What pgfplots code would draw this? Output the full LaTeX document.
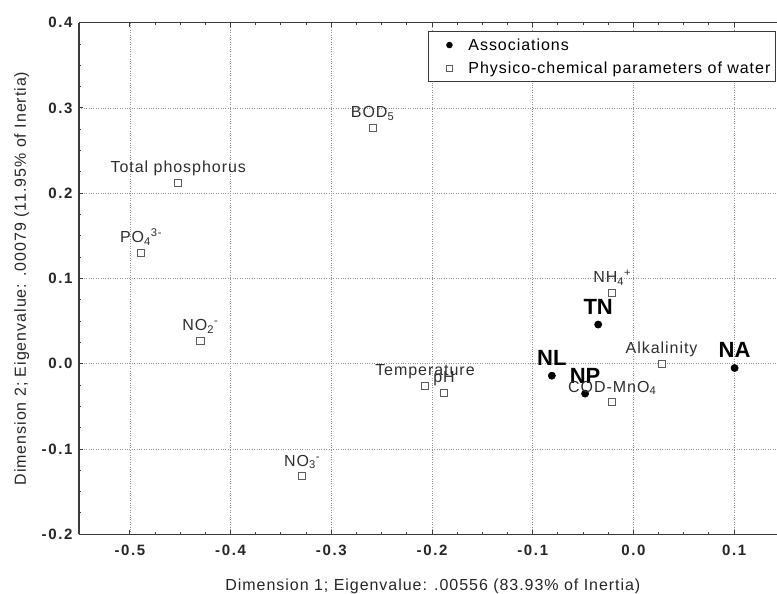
\documentclass[border=0pt]{standalone}
\usepackage{fontspec}
\setmainfont{Liberation Sans}[LetterSpace=6]
\newfontfamily\assocfont{Liberation Sans}
\newfontfamily\tickfont{Liberation Sans}[LetterSpace=11]
\usepackage{pgfplots}
\pgfplotsset{compat=1.18}
\definecolor{axisgray}{HTML}{3A3A3A}
\definecolor{markgray}{HTML}{5C5C5C}
\definecolor{labelgray}{HTML}{2E2E2E}

\begin{document}
\begin{tikzpicture}
\begin{axis}[
    name=ax,
    scale only axis,
    width=698pt, height=511.6pt,
    xmin=-0.5506, xmax=0.1426,
    ymin=-0.2, ymax=0.4,
    xtick={-0.5,-0.4,-0.3,-0.2,-0.1,0,0.1},
    ytick={-0.2,-0.1,0,0.1,0.2,0.3,0.4},
    minor tick num=3,
    axis y line*=left,
    axis line style={axisgray, line width=1.4pt},
    every tick/.style={axisgray, line width=1pt},
    major tick length=4pt, minor tick length=2.5pt,
    grid=major,
    grid style={dotted, gray!85, line width=0.8pt},
    tick label style={font=\tickfont\fontsize{15}{17}\selectfont\bfseries, text=black!85},
    yticklabel style={xshift=-3pt},
    xticklabel style={yshift=-7pt},
    /pgf/number format/.cd, fixed, fixed zerofill, precision=1, assume math mode=true,
    /pgfplots/.cd,
    label style={font=\fontsize{16}{19}\selectfont, text=black!85},
    xlabel={Dimension 1; Eigenvalue: .00556 (83.93\% of Inertia)},
    ylabel={Dimension 2; Eigenvalue: .00079 (11.95\% of Inertia)},
    xlabel style={at={(axis description cs:0.507,-0.1108)}, anchor=base},
    ylabel style={at={(axis description cs:-0.076,0.5)}, anchor=base},
    legend style={at={(axis description cs:0.9986,0.984)}, anchor=north east,
        draw=axisgray, line width=1.3pt, font=\fontsize{16}{19}\selectfont,
        row sep=6pt, inner ysep=5pt},
    legend cell align=left,
    legend image code/.code={
        \path[draw=none, fill=none] (-18pt,0pt) (17pt,0pt);
        \draw[#1, mark size=2.9pt] plot coordinates {(0pt,0pt)};
    },
    clip=false,
]
\addplot[only marks, mark=*, mark size=3.6pt, black,
    mark options={line width=0.6pt},
    point meta=explicit symbolic,
    nodes near coords,
    nodes near coords style={font=\assocfont\fontsize{22}{24}\selectfont\bfseries,
        anchor=base, yshift=10.5pt, text=black}]
coordinates {
    (-0.035,0.046) [TN]
    (-0.081,-0.014) [NL]
    (-0.048,-0.035) [NP]
    (0.1005,-0.005) [NA]
};
\addlegendentry{Associations}
\addplot[only marks, mark=square*, mark size=3.6pt,
    mark options={draw=markgray, fill=white, line width=0.9pt},
    point meta=explicit symbolic,
    nodes near coords,
    nodes near coords style={font=\fontsize{16}{19}\selectfont,
        anchor=base, yshift=10pt, text=labelgray}]
coordinates {
    (-0.452,0.212) [Total phosphorus]
    (-0.259,0.277) [BOD\textsubscript{5}]
    (-0.489,0.130) [PO\textsubscript{4}\textsuperscript{3-}]
    (-0.430,0.027) [NO\textsubscript{2}\textsuperscript{-}]
    (-0.329,-0.132) [NO\textsubscript{3}\textsuperscript{-}]
    (-0.207,-0.026) [Temperature]
    (-0.188,-0.034) [pH]
    (-0.021,0.083) [NH\textsubscript{4}\textsuperscript{+}]
    (-0.021,-0.045) [COD-MnO\textsubscript{4}]
    (0.028,0.000) [Alkalinity]
};
\addlegendentry{Physico-chemical parameters of water}
\end{axis}
\pgfresetboundingbox
\useasboundingbox ([shift={(-79pt,-59.7pt)}]ax.south west) rectangle ([shift={(0pt,22.7pt)}]ax.north east);
\end{tikzpicture}
\end{document}
